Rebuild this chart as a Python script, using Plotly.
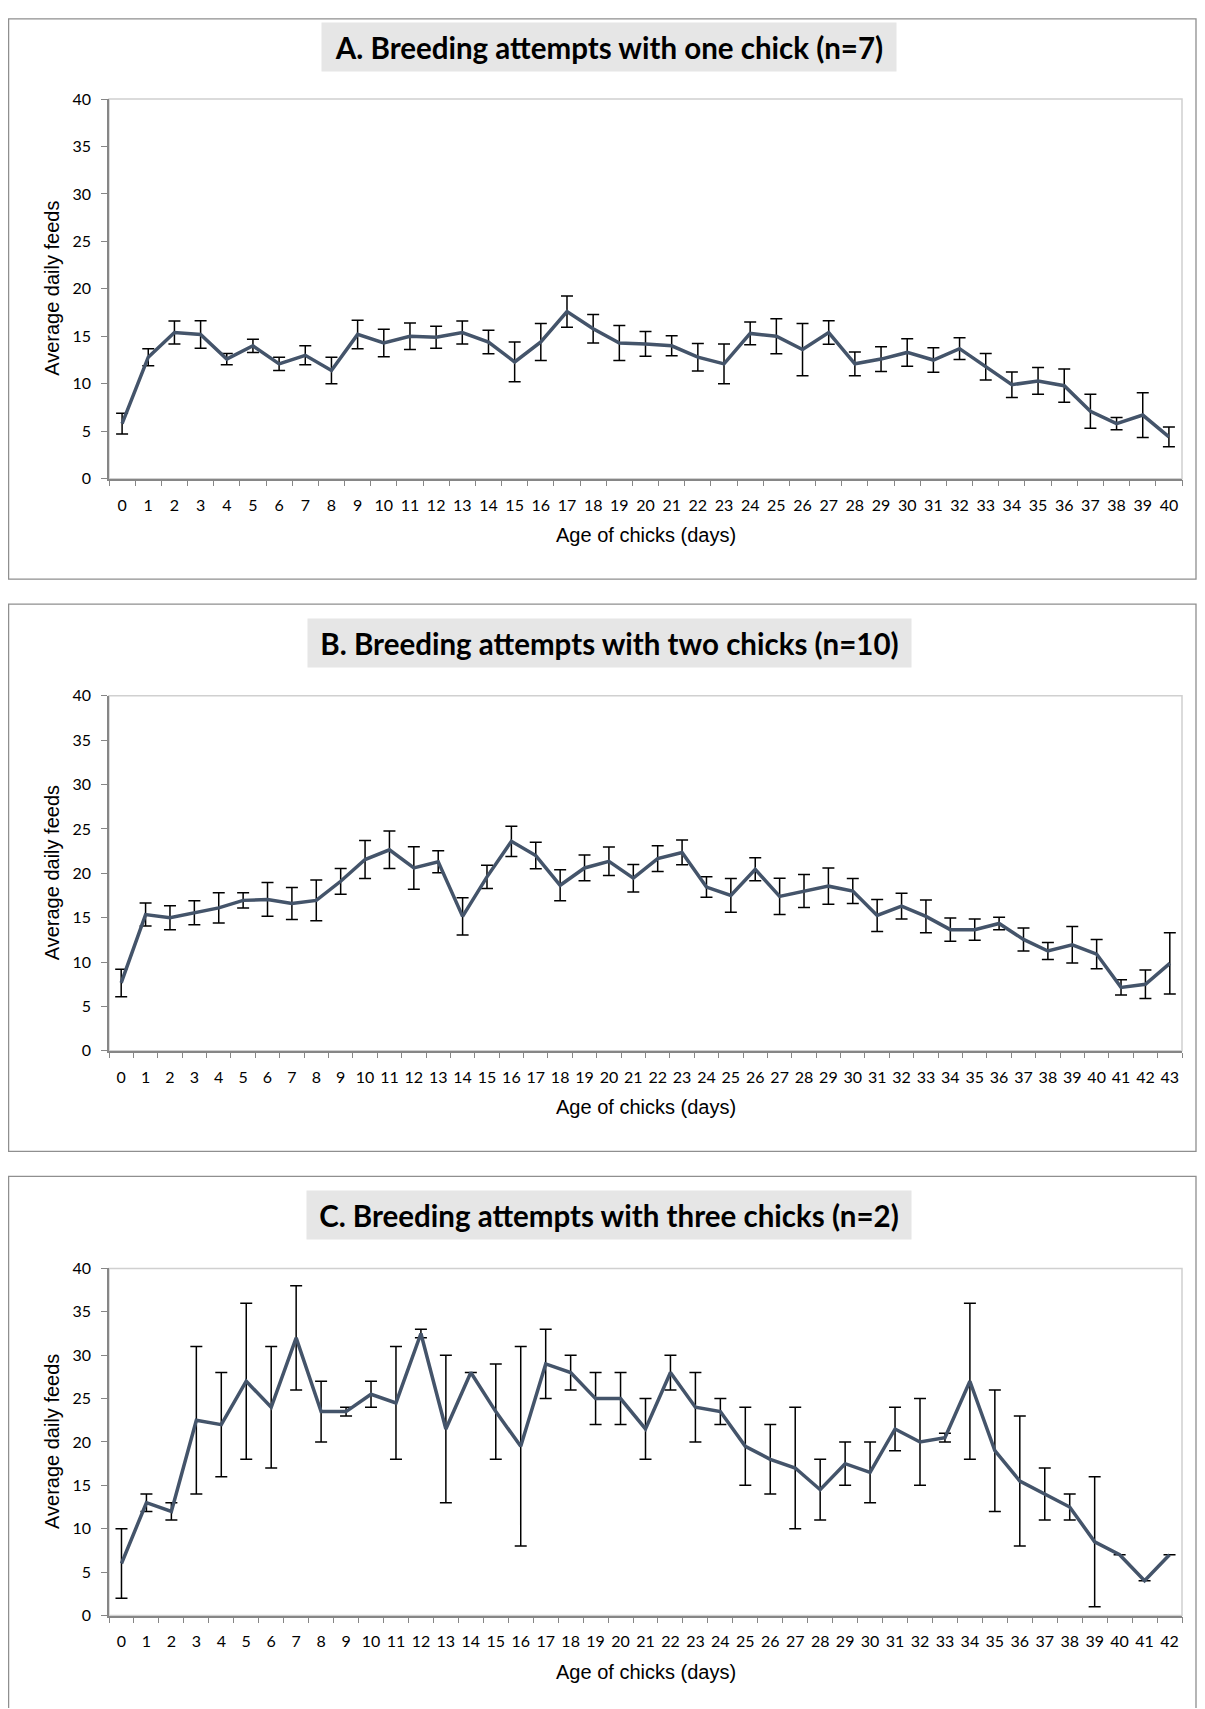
import plotly.graph_objects as go

# ---------------- data ----------------
A_days = list(range(0, 41))
A_mean = [5.8, 12.8, 15.4, 15.2, 12.6, 14.0, 12.1, 13.0, 11.4, 15.2,
          14.3, 15.0, 14.9, 15.4, 14.4, 12.3, 14.4, 17.6, 15.8, 14.3,
          14.2, 14.0, 12.8, 12.1, 15.3, 15.0, 13.6, 15.4, 12.1, 12.6,
          13.3, 12.5, 13.7, 11.8, 9.9, 10.3, 9.8, 7.1, 5.8, 6.7, 4.4]
A_err = [1.1, 0.9, 1.2, 1.45, 0.6, 0.7, 0.7, 1.0, 1.4, 1.5,
         1.45, 1.4, 1.15, 1.2, 1.25, 2.1, 1.95, 1.65, 1.5, 1.85,
         1.3, 1.05, 1.45, 2.1, 1.2, 1.85, 2.75, 1.25, 1.25, 1.3,
         1.45, 1.3, 1.15, 1.4, 1.35, 1.4, 1.75, 1.8, 0.65, 2.35, 1.05]

B_days = list(range(0, 44))
B_mean = [7.65, 15.35, 15.0, 15.55, 16.1, 16.95, 17.05, 16.6, 16.95, 19.1,
          21.55, 22.65, 20.6, 21.3, 15.15, 19.6, 23.6, 22.0, 18.65, 20.6,
          21.35, 19.45, 21.65, 22.35, 18.45, 17.5, 20.45, 17.4, 18.0, 18.55,
          18.0, 15.25, 16.3, 15.15, 13.65, 13.65, 14.35, 12.55, 11.25, 11.95,
          10.9, 7.15, 7.5, 9.85]
B_err = [1.55, 1.3, 1.35, 1.35, 1.7, 0.85, 1.9, 1.8, 2.3, 1.45,
         2.15, 2.1, 2.4, 1.25, 2.1, 1.3, 1.7, 1.5, 1.75, 1.45,
         1.6, 1.55, 1.45, 1.4, 1.15, 1.9, 1.3, 2.05, 1.85, 2.05,
         1.4, 1.8, 1.45, 1.85, 1.3, 1.2, 0.7, 1.3, 0.95, 2.05,
         1.65, 0.85, 1.6, 3.45]

C_days = list(range(0, 43))
C_mean = [6, 13, 12, 22.5, 22, 27, 24, 32, 23.5, 23.5,
          25.5, 24.5, 32.5, 21.5, 28, 23.5, 19.5, 29, 28, 25,
          25, 21.5, 28, 24, 23.5, 19.5, 18, 17, 14.5, 17.5,
          16.5, 21.5, 20, 20.5, 27, 19, 15.5, 14, 12.5, 8.5,
          7, 4, 7]
C_err = [4, 1, 1, 8.5, 6, 9, 7, 6, 3.5, 0.5,
         1.5, 6.5, 0.5, 8.5, 0, 5.5, 11.5, 4, 2, 3,
         3, 3.5, 2, 4, 1.5, 4.5, 4, 7, 3.5, 2.5,
         3.5, 2.5, 5, 0.5, 9, 7, 7.5, 3, 1.5, 7.5,
         0, 0, 0]

titles = ["A. Breeding attempts with one chick (n=7)",
          "B. Breeding attempts with two chicks (n=10)",
          "C. Breeding attempts with three chicks (n=2)"]
y_ticks = [0, 5, 10, 15, 20, 25, 30, 35, 40]
x_title = "Age of chicks (days)"
y_title = "Average daily feeds"

# ---------------- layout geometry (screen pixels) ----------------
# Measured page behaviour: figure starts 8px from the left, ~18px from the
# top, and the photograph is squeezed vertically by ~0.9885.
OFF_X, OFF_Y, SCALE_Y = 8, 18.2, 0.9885
FW, FH = 1205 - 2 * OFF_X, 1700
LINE = "#44546A"
AXIS = "#868686"
BORDER = "#D0D0D0"
BOX = "#8F8F8F"
TICKFONT = dict(family="Lato", size=16, color="black")
TITLEFONT = dict(family="Liberation Sans", size=20, color="black")

plot_left, plot_right = 109, 1182
panels = [
    # days, mean, err, plot top, plot bottom, box top, box bottom,
    # title centre y, title box width
    (A_days, A_mean, A_err, 99, 478.5, 18.8, 579, 47, 574),
    (B_days, B_mean, B_err, 695.5, 1050.5, 604, 1151, 643, 603),
    (C_days, C_mean, C_err, 1268, 1615, 1176, 1740, 1215, 604),
]


def fx(x):
    return (x - OFF_X) / FW


def fy(y):
    return 1 - (y / SCALE_Y - OFF_Y) / FH


fig = go.Figure()
shapes = []
annotations = []

for i, (days, mean, err, top, bot, btop, bbot, ty, tw) in enumerate(panels):
    ax = "" if i == 0 else str(i + 1)
    ov = str(i + 4)  # overlay axes used to draw the inner half of the ticks
    xr = [-0.5, len(days) - 0.5]
    fig.add_trace(go.Scatter(
        x=days, y=mean, mode="lines",
        line=dict(color=LINE, width=3.5),
        error_y=dict(type="data", array=err, visible=True, color="black",
                     thickness=1.5, width=6),
        xaxis="x" + ax, yaxis="y" + ax, showlegend=False, hoverinfo="skip",
    ))
    fig.update_layout({
        f"xaxis{ax}": dict(
            domain=[fx(plot_left), fx(plot_right)], range=xr,
            anchor="y" + ax, tickmode="array", tickvals=days,
            ticktext=[str(d) for d in days], ticks="",
            showgrid=False, zeroline=False, showline=True,
            linecolor=AXIS, linewidth=1.5, tickfont=TICKFONT,
            ticklabelstandoff=11,
            minor=dict(tickmode="linear", tick0=-0.5, dtick=1, ticks="outside",
                       ticklen=5.5, tickcolor=AXIS, tickwidth=1.3, showgrid=False),
            fixedrange=True,
        ),
        f"yaxis{ax}": dict(
            domain=[fy(bot), fy(top)], range=[0, 40], anchor="x" + ax,
            tickmode="array", tickvals=y_ticks, ticks="outside", ticklen=6,
            tickcolor=AXIS, tickwidth=1.3, showgrid=False, zeroline=False,
            showline=True, linecolor=AXIS, linewidth=1.5, tickfont=TICKFONT,
            ticklabelstandoff=7, fixedrange=True,
        ),
        f"xaxis{ov}": dict(
            overlaying="x" + ax, anchor="y" + ax, range=xr,
            tickmode="array", tickvals=days, ticks="", showticklabels=False,
            showgrid=False, zeroline=False, showline=False,
            minor=dict(tickmode="linear", tick0=-0.5, dtick=1, ticks="inside",
                       ticklen=5.5, tickcolor=AXIS, tickwidth=1.3, showgrid=False),
            fixedrange=True,
        ),
        f"yaxis{ov}": dict(
            overlaying="y" + ax, anchor="x" + ax, range=[0, 40],
            tickmode="array", tickvals=y_ticks[1:], ticks="inside", ticklen=5.5,
            tickcolor=AXIS, tickwidth=1.3, showticklabels=False,
            showgrid=False, zeroline=False, showline=False, fixedrange=True,
        ),
    })
    # plot-area border (top/right light grey)
    shapes.append(dict(type="rect", xref=f"x{ax} domain", yref=f"y{ax} domain",
                       x0=0, x1=1, y0=0, y1=1, layer="below",
                       line=dict(color=BORDER, width=1.5)))
    # outer panel box
    shapes.append(dict(type="rect", xref="paper", yref="paper",
                       x0=fx(8.6), x1=fx(1196), y0=fy(bbot), y1=fy(btop),
                       line=dict(color=BOX, width=1.3), layer="below"))
    # panel title
    annotations.append(dict(
        text=f"<b>{titles[i]}</b>", xref="paper", yref="paper",
        x=fx(609), y=fy(ty), xanchor="center", yanchor="middle",
        showarrow=False, bgcolor="#E6E6E6", borderpad=4,
        width=tw - 8, height=40,
        font=dict(family="Lato", size=29.5, color="black"),
    ))
    # axis titles
    annotations.append(dict(
        text=x_title, xref="paper", yref="paper",
        x=fx((plot_left + plot_right) / 2), y=fy(bot + 56),
        xanchor="center", yanchor="middle", showarrow=False, font=TITLEFONT,
    ))
    annotations.append(dict(
        text=y_title, xref="paper", yref="paper",
        x=fx(52), y=fy((top + bot) / 2), textangle=-90,
        xanchor="center", yanchor="middle", showarrow=False, font=TITLEFONT,
    ))

fig.update_layout(
    width=FW, height=FH, margin=dict(l=0, r=0, t=0, b=0),
    paper_bgcolor="white", plot_bgcolor="white",
    shapes=shapes, annotations=annotations, showlegend=False,
)

fig.write_html("out.html", config={"displayModeBar": False})
